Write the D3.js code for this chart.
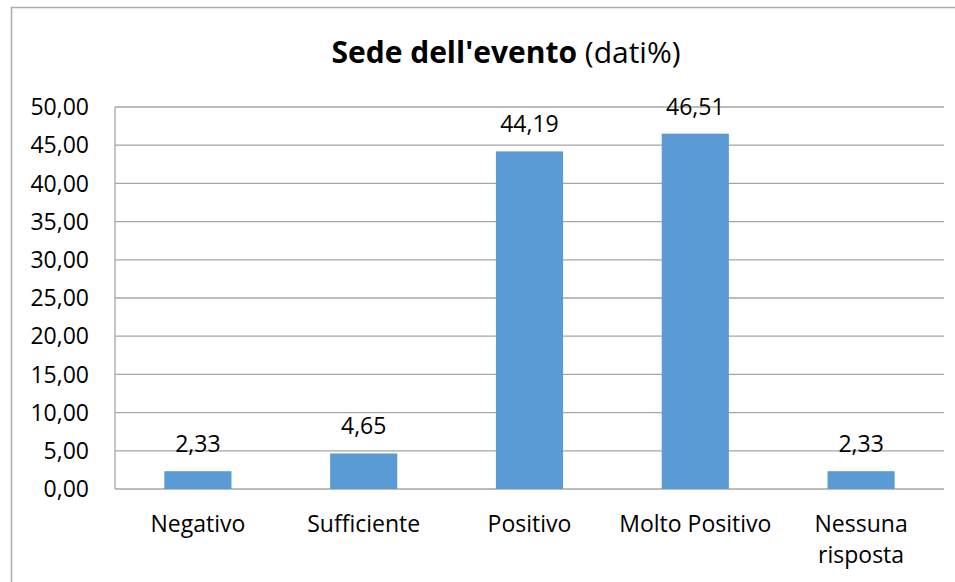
<!DOCTYPE html>
<html><head><meta charset="utf-8">
<script src="https://cdn.jsdelivr.net/npm/d3@7/dist/d3.min.js"></script>
<style>body{margin:0;background:#fff}svg{display:block}text{font-family:"Open Sans",sans-serif;fill:#000}</style>
</head><body><svg id="c" width="955" height="582"></svg>
<script>
const categories = ["Negativo", "Sufficiente", "Positivo", "Molto Positivo", "Nessuna risposta"];
const values = [2.33, 4.65, 44.19, 46.51, 2.33];
const yTicks = [0, 5, 10, 15, 20, 25, 30, 35, 40, 45, 50];

const svg = d3.select("#c");
const m = {l: 115, r: 944, t: 107, b: 489};
const fmt = v => d3.format(".2f")(v).replace(".", ",");

svg.append("rect").attr("x", 11.5).attr("y", 7.5).attr("width", 960).attr("height", 600)
  .attr("fill", "#fff").attr("stroke", "#adadad").attr("stroke-width", 1.5);

const x = d3.scaleBand().domain(categories).range([m.l, m.r]).padding(0);
const y = d3.scaleLinear().domain([0, 50]).range([m.b, m.t]);

// gridlines
svg.append("g").selectAll("line").data(yTicks).join("line")
  .attr("x1", m.l).attr("x2", m.r).attr("y1", d => y(d)).attr("y2", d => y(d))
  .attr("stroke", "#a6a6a6").attr("stroke-width", 1.3);
svg.append("line").attr("x1", m.l).attr("x2", m.l).attr("y1", m.t).attr("y2", m.b)
  .attr("stroke", "#a6a6a6").attr("stroke-width", 1.3);

// y axis labels
svg.append("g").selectAll("text").data(yTicks).join("text")
  .attr("x", 89).attr("y", d => y(d)).attr("dy", "0.36em").attr("text-anchor", "end")
  .style("font-size", "23px").text(fmt);

// bars
const bw = x.bandwidth() * 0.405;
svg.append("g").selectAll("rect").data(values).join("rect")
  .attr("x", (d, i) => x(categories[i]) + x.bandwidth() / 2 - bw / 2)
  .attr("width", bw)
  .attr("y", d => y(d)).attr("height", d => y(0) - y(d))
  .attr("fill", "#5B9BD5");

// value labels
svg.append("g").selectAll("text").data(values).join("text")
  .attr("x", (d, i) => x(categories[i]) + x.bandwidth() / 2)
  .attr("y", d => y(d) - 19).attr("text-anchor", "middle")
  .style("font-size", "23px").text(fmt);

// category labels
const cl = svg.append("g").selectAll("text").data(categories).join("text")
  .attr("x", d => x(d) + x.bandwidth() / 2).attr("y", 532).attr("text-anchor", "middle")
  .style("font-size", "23px");
cl.each(function(d) {
  const t = d3.select(this);
  const parts = d === "Nessuna risposta" ? ["Nessuna", "risposta"] : [d];
  parts.forEach((p, i) => t.append("tspan").attr("x", x(d) + x.bandwidth() / 2).attr("dy", i ? 31 : 0).text(p));
});

// title
const title = svg.append("text").attr("x", 506).attr("y", 63).attr("text-anchor", "middle")
  .style("font-size", "30px");
title.append("tspan").style("font-weight", "bold").text("Sede dell'evento");
title.append("tspan").text(" (dati%)");
</script></body></html>
